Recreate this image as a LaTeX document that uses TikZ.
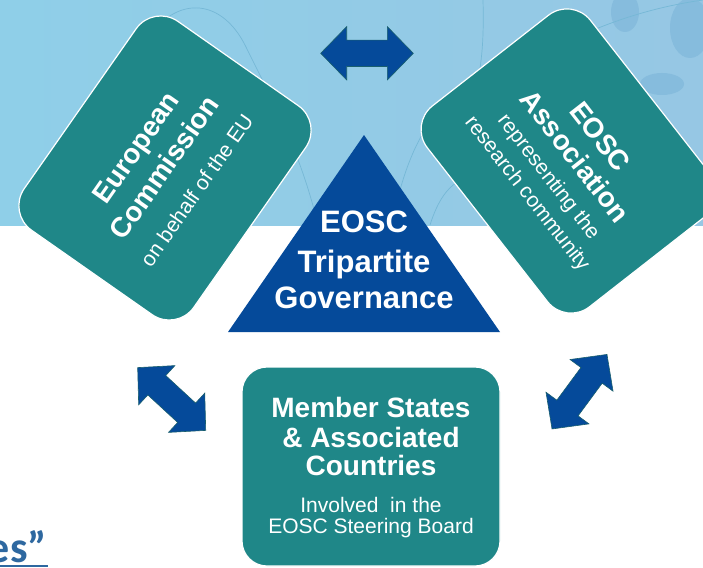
\documentclass[tikz,border=0pt]{standalone}
\usepackage{fontspec}
\setmainfont{Liberation Sans}
\newfontfamily\calib{Carlito}
\definecolor{bgblue}{RGB}{143,207,232}
\definecolor{bgblueR}{RGB}{150,199,228}
\definecolor{tealbox}{RGB}{31,135,136}
\definecolor{navytri}{RGB}{5,74,154}
\definecolor{arrowedge}{RGB}{25,95,110}
\definecolor{curvec}{RGB}{118,184,214}
\definecolor{blobc}{RGB}{134,188,221}
\definecolor{titleblue}{RGB}{46,104,160}
\begin{document}
\begin{tikzpicture}[x=1pt,y=-1pt,
  box/.style={draw=white, line width=1.2pt, fill=tealbox, rounded corners=30pt, inner sep=0pt},
  bigtxt/.style={text=white, font=\fontsize{28}{30}\selectfont\bfseries, inner sep=0pt, anchor=base},
  smalltxt/.style={text=white, font=\fontsize{21}{24}\selectfont, inner sep=0pt, anchor=base},
  tritxt/.style={text=white, font=\fontsize{31}{33}\selectfont\bfseries, inner sep=0pt, anchor=base},
  blockarrow/.style={fill=navytri, draw=arrowedge, line width=0.6pt},
  bgcurve/.style={draw=curvec, line width=0.7pt}]
\useasboundingbox (0,0) rectangle (703,567);
\fill[white] (0,0) rectangle (703,567);
\shade[left color=bgblue, right color=bgblueR] (0,0) rectangle (703,225);
% faint background decoration
\fill[blobc] (625,12) ellipse [x radius=14pt, y radius=20pt];
\fill[blobc] (690,28) ellipse [x radius=20pt, y radius=30pt];
\fill[blobc] (662,84) ellipse [x radius=22pt, y radius=11pt];
\draw[bgcurve] (150,35) .. controls (180,-5) and (222,0) .. (245,45) .. controls (272,100) and (300,150) .. (318,225);
\draw[bgcurve] (483,0) .. controls (484,40) and (482,62) .. (476,90);
\draw[bgcurve] (392,225) .. controls (408,140) and (440,85) .. (510,68);
\draw[bgcurve] (575,38) .. controls (625,15) and (668,5) .. (703,0);
\draw[bgcurve] (430,225) .. controls (438,200) and (448,185) .. (465,178);
% boxes
\node[box, minimum width=255pt, minimum height=207pt, rotate=55] (ec) at (165,168) {};
\node[box, minimum width=255pt, minimum height=207pt, rotate=-52] (ea) at (569,161) {};
\node[box, minimum width=258pt, minimum height=199pt, rounded corners=25pt] (ms) at (371,466.5) {};
% texts of the rotated boxes
\begin{scope}[shift={(ec.center)}, rotate=55, transform shape]
  \node[bigtxt] (ec1) at (0,-26) {European};
  \node[bigtxt] (ec2) at (0,8.5) {Commission};
  \node[smalltxt] (ec3) at (0,46) {on behalf of the EU};
\end{scope}
\begin{scope}[shift={(ea.center)}, rotate=-52, transform shape]
  \node[bigtxt] (ea1) at (0,-30) {EOSC};
  \node[bigtxt] (ea2) at (0,2) {Association};
  \node[smalltxt] (ea3) at (0,32) {representing the};
  \node[smalltxt] (ea4) at (0,59) {research community};
\end{scope}
% bottom box text
\node[bigtxt] (ms1) at (371,417) {Member States};
\node[bigtxt] (ms2) at (371,447) {\& Associated};
\node[bigtxt] (ms3) at (371,475) {Countries};
\node[smalltxt] (ms4) at (371,512) {Involved\ \ in the};
\node[smalltxt] (ms5) at (371,533) {EOSC Steering Board};
% triangle
\coordinate (tA) at (364,135);
\coordinate (tB) at (228,332);
\coordinate (tC) at (500,332);
\fill[navytri] (tA) -- (tB) -- (tC) -- cycle;
\node[tritxt] (tg1) at (364,232) {EOSC};
\node[tritxt] (tg2) at (364,272) {Tripartite};
\node[tritxt] (tg3) at (364,308) {Governance};
% block arrows
\begin{scope}[shift={(367,53.3)}]
  \draw[blockarrow] (-46.3,0) -- (-20.3,-26.7) -- (-20.3,-13.2) -- (20.3,-13.2) -- (20.3,-26.7) -- (46.3,0) -- (20.3,26.7) -- (20.3,13.2) -- (-20.3,13.2) -- (-20.3,26.7) -- cycle;
\end{scope}
\begin{scope}[shift={(171.7,399)}, rotate=-42.7]
  \draw[blockarrow] (-46.3,0) -- (-20.3,-26.7) -- (-20.3,-13.2) -- (20.3,-13.2) -- (20.3,-26.7) -- (46.3,0) -- (20.3,26.7) -- (20.3,13.2) -- (-20.3,13.2) -- (-20.3,26.7) -- cycle;
\end{scope}
\begin{scope}[shift={(579.5,391.7)}, rotate=53.6]
  \draw[blockarrow] (-46.3,0) -- (-20.3,-26.7) -- (-20.3,-13.2) -- (20.3,-13.2) -- (20.3,-26.7) -- (46.3,0) -- (20.3,26.7) -- (20.3,13.2) -- (-20.3,13.2) -- (-20.3,26.7) -- cycle;
\end{scope}
% clipped title fragment
\node[font=\calib\bfseries\fontsize{44}{44}\selectfont, text=titleblue, anchor=base east, inner sep=0pt] (frag) at (47,562) {es”};
\draw[titleblue, line width=2pt] (0,566) -- (48,566);
\end{tikzpicture}
\end{document}
